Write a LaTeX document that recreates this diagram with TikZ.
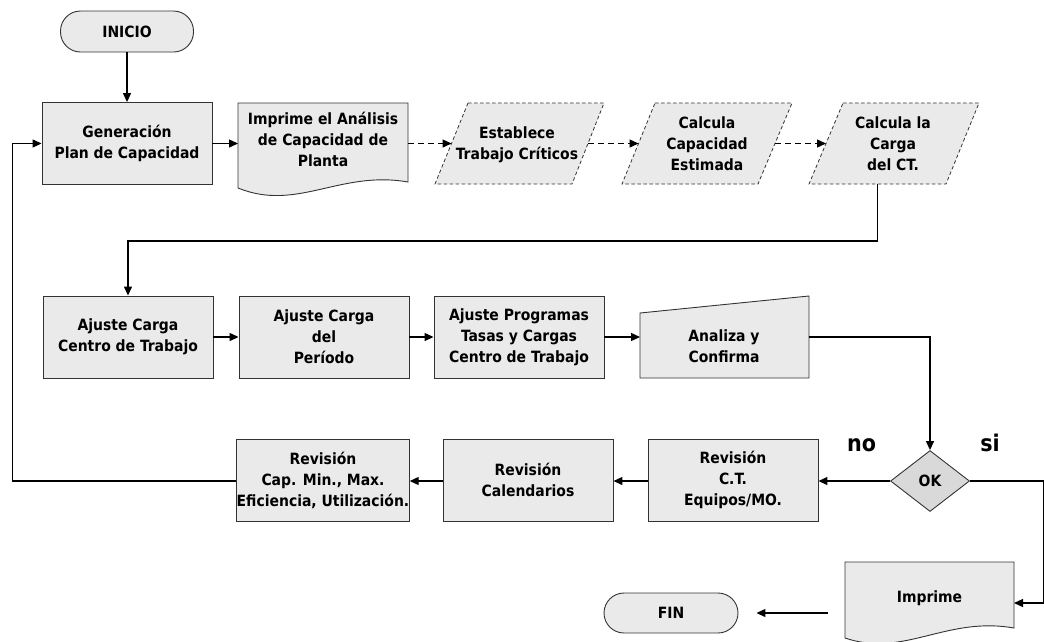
\documentclass[tikz,border=0pt]{standalone}
\usepackage{fontspec}
\setmainfont{DejaVu Sans Condensed}[BoldFont={DejaVu Sans Condensed Bold}]
\usetikzlibrary{arrows.meta,calc,shapes.geometric}
\definecolor{boxgray}{HTML}{EAEAEA}
\definecolor{dgray}{HTML}{D9D9D9}
\definecolor{edge}{HTML}{333333}
\pgfdeclarelayer{bg}
\pgfsetlayers{bg,main}
\begin{document}
\begin{tikzpicture}[x=1pt,y=-1pt,
  every node/.style={font=\fontsize{15.5}{21}\selectfont\bfseries, align=center, inner sep=0pt},
  box/.style={draw=edge, fill=boxgray, line width=0.9pt, minimum width=170pt, minimum height=82pt},
  term/.style={draw=edge, fill=boxgray, line width=0.9pt, minimum width=133pt, minimum height=41pt, rounded corners=20pt},
  shp/.style={draw=edge, fill=boxgray, line width=0.9pt},
  para/.style={draw=edge, fill=boxgray, line width=0.8pt, dash pattern=on 3.5pt off 2.5pt},
  dec/.style={diamond, draw=edge, fill=dgray, line width=0.9pt, minimum width=79pt, minimum height=61pt, aspect=1.3},
  arr/.style={draw=black, line width=1.3pt, -{Triangle[length=9pt,width=8pt]}},
  darr/.style={arr, dash pattern=on 6pt off 4pt},
  lab/.style={font=\fontsize{23}{26}\selectfont\bfseries, anchor=base}
]
\useasboundingbox (0,0) rectangle (1044,641);

% top row
\node[term] (ini) at (127,31.5) {INICIO};
\node[box] (gen) at (127,143.5) {Generación\\Plan de Capacidad};
\node (imp) at (323,139) {Imprime el Análisis\\de Capacidad de\\Planta};
\coordinate (imp-w) at (238,143.5);
\coordinate (imp-e) at (408,143.5);
\node (est) at (517,145) {Establece\\Trabajo Críticos};
\coordinate (est-w) at (451.5,143.5);
\coordinate (est-e) at (588,143.5);
\node (ccap) at (707,143.5) {Calcula\\Capacidad\\Estimada};
\coordinate (ccap-w) at (638.5,143.5);
\coordinate (ccap-e) at (775,143.5);
\node (ccar) at (893,143.5) {Calcula la\\Carga\\del CT.};
\coordinate (ccar-w) at (826,143.5);
\coordinate (ccar-s) at (877.5,184);

% middle row
\node[box] (ajc) at (128,337) {Ajuste Carga\\Centro de Trabajo};
\node[box] (ajp) at (324,337) {Ajuste Carga\\del\\Período};
\node[box] (ajg) at (519,337) {Ajuste Programas\\Tasas y Cargas\\Centro de Trabajo};
\node (ana) at (724,346) {Analiza y\\Confirma};
\coordinate (ana-w) at (640,337);
\coordinate (ana-e) at (809,337);

% bottom row
\node[dec] (ok) at (930,481) {OK};
\node[box] (rct) at (733,480) {Revisión\\C.T.\\Equipos/MO.};
\node[box] (rcal) at (528,480) {Revisión\\Calendarios};
\node[box] (rcap) at (323,480) {Revisión\\Cap. Min., Max.\\Eficiencia, Utilización.};
\node[lab] (no) at (861.5,451) {no};
\node[lab] (si) at (990,451) {si};

\node (imp2) at (929.5,598) {Imprime};
\coordinate (imp2-e) at (1014,603);
\coordinate (imp2-w) at (828,613);
\node[term, minimum width=134pt, minimum height=40pt] (fin) at (671,613) {FIN};
\coordinate (fin-a) at ($(fin.east)+(18,0)$);

% shapes drawn behind text
\begin{pgfonlayer}{bg}
\draw[shp] (238,103) -- (408,103) -- (408,182) .. controls (340,170) and (297,212) .. (238,188) -- cycle;
\draw[para] (468,103) -- (604,103) -- (572,184) -- (435,184) -- cycle;
\draw[para] (655,103) -- (792,103) -- (758,184) -- (622,184) -- cycle;
\draw[para] (843,103) -- (979,103) -- (946,184) -- (809,184) -- cycle;
\draw[shp] (640,313) -- (809,296) -- (809,378) -- (640,378) -- cycle;
\draw[shp] (845,562) -- (1014,562) -- (1014,628) .. controls (946,616) and (904,658) .. (845,638) -- cycle;
\end{pgfonlayer}

% connectors
\draw[arr] (ini) -- (gen);
\draw[arr] (gen) -- (imp-w);
\draw[darr] (imp-e) -- (est-w);
\draw[darr] (est-e) -- (ccap-w);
\draw[darr] (ccap-e) -- (ccar-w);
\draw[arr] (ccar-s) -- ++(0,57) -| (ajc.north);
\draw[arr] (ajc) -- (ajp);
\draw[arr] (ajp) -- (ajg);
\draw[arr] (ajg.east) -- (ana-w);
\draw[arr] (ana-e) -| (ok.north);
\draw[arr] (ok.west) -- (rct.east |- ok.west);
\draw[arr] (rct.west |- ok.west) -- (rcal.east |- ok.west);
\draw[arr] (rcal.west |- ok.west) -- (rcap.east |- ok.west);
\draw[arr] (rcap.west |- ok.west) -- ++(-224,0) |- (gen.west);
\draw[arr] (ok.east) -- ++(73.5,0) |- (imp2-e);
\draw[arr] (imp2-w) -- (fin-a);
\end{tikzpicture}
\end{document}
